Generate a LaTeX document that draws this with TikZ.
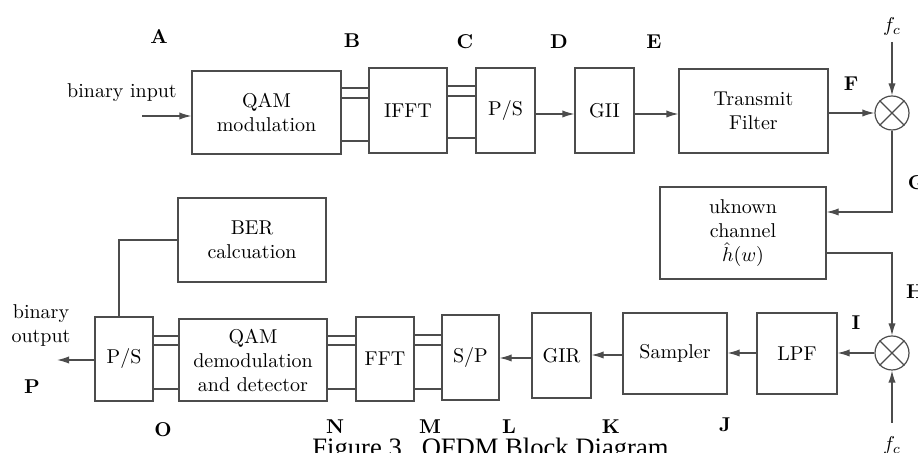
\documentclass[tikz,border=0pt]{standalone}
\usepackage{fontspec}
\newfontfamily\figcapfont{Liberation Serif}
\usetikzlibrary{arrows.meta}

\tikzset{
  blockbox/.style={draw=black!70, line width=0.6pt, align=center, inner sep=1pt},
  mixer/.style={draw=black!70, line width=0.6pt, circle, minimum size=17pt, inner sep=0pt},
  pointlabel/.style={font=\bfseries},
  sig/.style={draw=black!70, line width=0.6pt, -{Latex[length=6pt,width=3.6pt]}},
  bus/.style={draw=black!70, line width=0.6pt},
}

\begin{document}
\begin{tikzpicture}[x=0.5pt, y=-0.5pt]
  \useasboundingbox (0,0) rectangle (918,453);

  % transmitter
  \node[blockbox, minimum width=74.5pt, minimum height=41.5pt] (qam) at (266.5,112.5) {QAM\\modulation};
  \node[blockbox, minimum width=39pt, minimum height=42.5pt] (ifft) at (408,110.5) {IFFT};
  \node[blockbox, minimum width=29.5pt, minimum height=42.5pt] (ps) at (505.5,110.5) {P/S};
  \node[blockbox, minimum width=29.5pt, minimum height=42.5pt] (gii) at (604.5,110.5) {GII};
  \node[blockbox, minimum width=74.5pt, minimum height=42pt] (tx) at (753.5,111) {Transmit\\Filter};
  \node[mixer] (mixtx) at (892,113) {};
  \draw[black!70, line width=0.6pt] (mixtx.north east) -- (mixtx.south west) (mixtx.north west) -- (mixtx.south east);

  % channel
  \node[blockbox, minimum width=83pt, minimum height=46pt] (channel) at (743,233) {uknown\\channel\\$\hat{h}(w)$};

  % receiver
  \node[mixer] (mixrx) at (892,353) {};
  \draw[black!70, line width=0.6pt] (mixrx.north east) -- (mixrx.south west) (mixrx.north west) -- (mixrx.south east);
  \node[blockbox, minimum width=40pt, minimum height=40.5pt] (lpf) at (797,353.5) {LPF};
  \node[blockbox, minimum width=52pt, minimum height=40.5pt] (sampler) at (675,353.5) {Sampler};
  \node[blockbox, minimum width=29.5pt, minimum height=42.5pt] (gir) at (561.5,355.5) {GIR};
  \node[blockbox, minimum width=28.5pt, minimum height=42.5pt] (sp) at (470.5,357.5) {S/P};
  \node[blockbox, minimum width=29pt, minimum height=42pt] (fft) at (385,359) {FFT};
  \node[blockbox, minimum width=74pt, minimum height=41pt] (demod) at (253,360) {QAM\\demodulation\\and detector};
  \node[blockbox, minimum width=29pt, minimum height=42pt] (psout) at (124,359) {P/S};
  \node[blockbox, minimum width=74pt, minimum height=42pt] (ber) at (252,240) {BER\\calcuation};

  % free ends
  \coordinate (binin) at (142,116);
  \coordinate (binout) at (57,360);
  \coordinate (fctop) at (892,42);
  \coordinate (fcbot) at (892,423);
  \node (intxt) at (122,93) {binary input};
  \node[align=center] (outtxt) at (41,326) {binary\\output};
  \node (fcup) at (892,27) {$f_c$};
  \node (fcdown) at (892,446) {$f_c$};

  % connectors
  \draw[sig] (binin) -- (qam.west |- binin);
  \foreach \y in {88,98,141} \draw[bus] (qam.east |- 0,\y) -- (ifft.west |- 0,\y);
  \foreach \y in {86,96,138} \draw[bus] (ifft.east |- 0,\y) -- (ps.west |- 0,\y);
  \draw[sig] (ps.east |- 0,114) -- (gii.west |- 0,114);
  \draw[sig] (gii.east |- 0,114) -- (tx.west |- 0,114);
  \draw[sig] (tx.east |- mixtx.west) -- (mixtx.west);
  \draw[sig] (fctop) -- (mixtx.north);
  \draw[sig] (mixtx.south) |- (channel.east |- 0,212);
  \draw[sig] (channel.east |- 0,253) -| (mixrx.north);
  \draw[sig] (fcbot) -- (mixrx.south);
  \draw[sig] (mixrx.west) -- (lpf.east |- mixrx.west);
  \draw[sig] (lpf.west |- 0,353) -- (sampler.east |- 0,353);
  \draw[sig] (sampler.west |- 0,355) -- (gir.east |- 0,355);
  \draw[sig] (gir.west |- 0,358) -- (sp.east |- 0,358);
  \foreach \y in {335,345,389} \draw[bus] (fft.east |- 0,\y) -- (sp.west |- 0,\y);
  \foreach \y in {336,345,389} \draw[bus] (demod.east |- 0,\y) -- (fft.west |- 0,\y);
  \foreach \y in {336,345,389} \draw[bus] (psout.east |- 0,\y) -- (demod.west |- 0,\y);
  \draw[sig] (psout.west |- binout) -- (binout);
  \draw[bus] (psout.north -| 119,0) |- (ber.west);

  % signal points
  \node[pointlabel] (ptA) at (159,37) {A};
  \node[pointlabel] (ptB) at (352,41) {B};
  \node[pointlabel] (ptC) at (465,42) {C};
  \node[pointlabel] (ptD) at (559,42) {D};
  \node[pointlabel] (ptE) at (654,42) {E};
  \node[pointlabel] (ptF) at (851,84) {F};
  \node[pointlabel] (ptG) at (917,183) {G};
  \node[pointlabel] (ptH) at (915,292) {H};
  \node[pointlabel] (ptI) at (856,323) {I};
  \node[pointlabel] (ptJ) at (725,425) {J};
  \node[pointlabel] (ptK) at (611,427) {K};
  \node[pointlabel] (ptL) at (509,427) {L};
  \node[pointlabel] (ptM) at (430,427) {M};
  \node[pointlabel] (ptN) at (335,427) {N};
  \node[pointlabel] (ptO) at (163,430) {O};
  \node[pointlabel] (ptP) at (32,387) {P};

  \node[anchor=base west, inner sep=0pt, font=\figcapfont\fontsize{13.3}{15}\selectfont] (caption) at (312,457) {Figure 3.~~OFDM Block Diagram};
\end{tikzpicture}
\end{document}
